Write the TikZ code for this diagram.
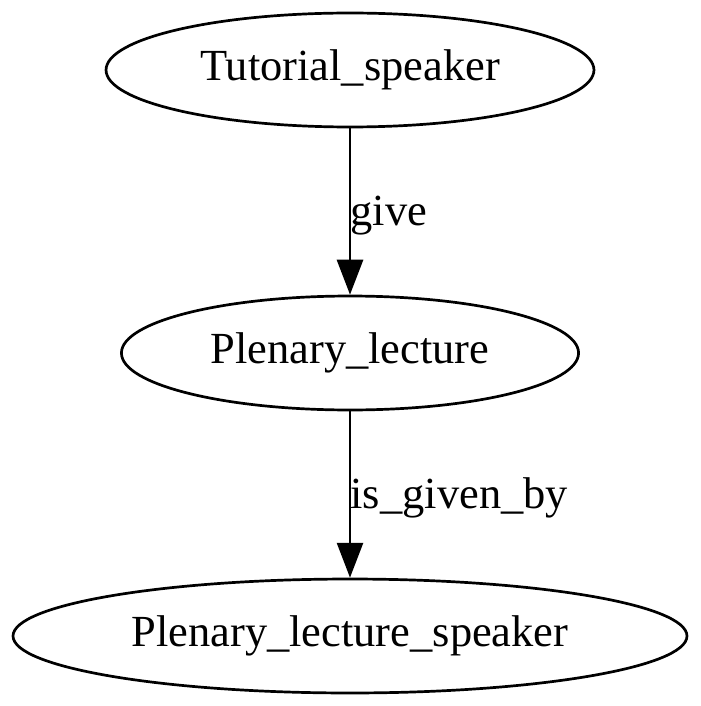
\documentclass[tikz,border=0pt]{standalone}
\usepackage{fontspec}
\setmainfont{Liberation Serif}
\usetikzlibrary{shapes.geometric,arrows.meta}
\begin{document}
\begin{tikzpicture}[x=0.315pt,y=-0.315pt]

\tikzset{concept/.style = {shape=ellipse,draw,line width=0.85pt,inner sep=0pt,minimum height=35.9pt,font=\fontsize{14}{16}\selectfont}}
\tikzset{rel/.style = {-{Triangle[length=11pt,width=8.2pt]},line width=0.85pt}}
\tikzset{rellabel/.style = {anchor=base west,inner sep=0pt,font=\fontsize{14}{16}\selectfont}}

\useasboundingbox (0,0) rectangle (700,706);

% concepts
\node[concept,minimum width=153.7pt] (tutorial) at (350,70) {Tutorial\_speaker};
\node[concept,minimum width=144pt] (lecture) at (350,353) {Plenary\_lecture};
\node[concept,minimum width=212.3pt] (speaker) at (350,636) {Plenary\_lecture\_speaker};

% relations
\draw[rel] (tutorial) to (lecture);
\draw[rel] (lecture) to (speaker);

% labels
\node[rellabel] (give) at (350,225) {give};
\node[rellabel] (givenby) at (350,508) {is\_given\_by};

\end{tikzpicture}
\end{document}
